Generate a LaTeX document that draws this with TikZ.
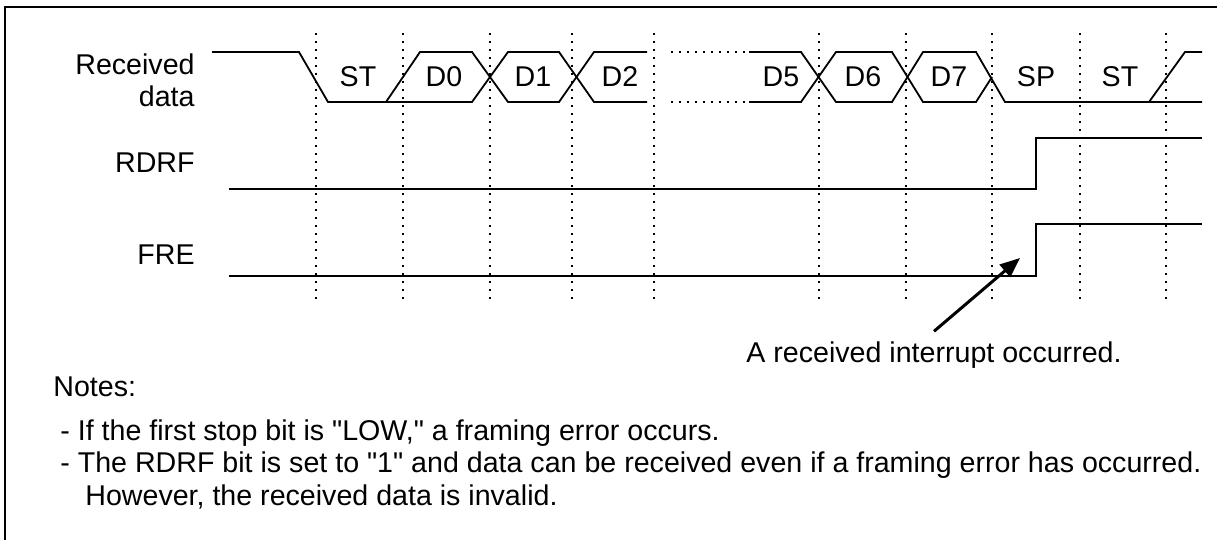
\documentclass[tikz,border=0pt]{standalone}
\usepackage{fontspec}
\setmainfont{Liberation Sans}[Ligatures=TeXOff]
\usetikzlibrary{arrows.meta}

\tikzset{
  sig/.style={line width=0.9pt},
  gridline/.style={line width=1pt, dash pattern=on 1pt off 3pt},
  lbl/.style={font=\fontsize{14.3}{16}\selectfont, inner sep=0pt},
}

\begin{document}
\begin{tikzpicture}[x=0.5pt,y=-0.5pt]
\useasboundingbox (0,0) rectangle (1217,540);
% frame
\draw[line width=1.3pt] (5,560) -- (5,7) -- (1240,7);
% time grid
\foreach \gx in {316,403,490,572,654,819,906,992,1080,1166}
  \draw[gridline] (\gx,33) -- (\gx,300);

% received data
\draw[sig] (212,52) -- (299,52) -- (328,102) -- (472,102) -- (508,52) -- (559,52) -- (594,102) -- (647,102);
\draw[sig] (386,102) -- (420,52) -- (472,52) -- (508,102) -- (559,102) -- (594,52) -- (647,52);
\draw[gridline] (671,52) -- (749,52);
\draw[gridline] (671,102) -- (749,102);
\draw[sig] (749,52) -- (801,52) -- (836,102) -- (892,102) -- (923,52) -- (976,52) -- (1005,102) -- (1202,102);
\draw[sig] (749,102) -- (801,102) -- (836,52) -- (892,52) -- (923,102) -- (976,102) -- (992,77);
\draw[sig] (1149,102) -- (1185,52) -- (1202,52);
\foreach \cx/\ct [count=\ci] in {358/ST,444/D0,533/D1,620/D2,781/D5,863/D6,949/D7,1036/SP,1120/ST}
  \node[lbl] (cell\ci) at (\cx,77) {\ct};

% RDRF and FRE
\draw[sig] (229,189) -- (1036,189) -- (1036,138) -- (1202,138);
\draw[sig] (229,276) -- (1036,276) -- (1036,224) -- (1202,224);

% signal names
\node[lbl, anchor=east, align=right] (rxd) at (195,80) {Received\\data};
\node[lbl, anchor=east] (rdrf) at (195,163) {RDRF};
\node[lbl, anchor=east] (fre) at (195,255) {FRE};

% interrupt
\coordinate (irqtip) at (1020,258);
\node[lbl, anchor=east] (irq) at (1122,355) {A received interrupt occurred.};
\draw[line width=1.5pt, -{Triangle[length=10pt,width=8pt]}] ([yshift=5pt]irq.north) -- (irqtip);

% notes
\node[lbl, anchor=west] (notes) at (53,387) {Notes:};
\node[lbl, anchor=west] (note1) at (60,433) {- If the first stop bit is "LOW," a framing error occurs.};
\node[lbl, anchor=west] (note2) at (60,465) {- The RDRF bit is set to "1" and data can be received even if a framing error has occurred.};
\node[lbl, anchor=west] (note3) at (85,497) {However, the received data is invalid.};
\end{tikzpicture}
\end{document}
